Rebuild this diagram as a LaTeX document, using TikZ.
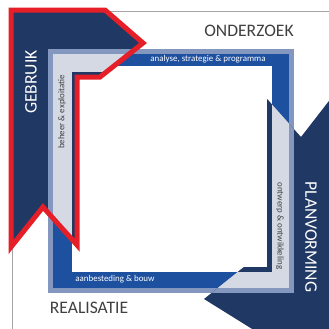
\documentclass[tikz,border=0pt]{standalone}
\usepackage{fontspec}
\setmainfont{Carlito}
\usepackage{tikz}
\usetikzlibrary{positioning}
\definecolor{colornavy}  {RGB}{32,56,100}
\definecolor{colorblue}  {RGB}{30,80,160}
\definecolor{colorsteel} {RGB}{132,151,190}
\definecolor{colorlight} {RGB}{212,217,228}
\definecolor{colorred}   {RGB}{230,30,40}
\definecolor{colortext}  {RGB}{64,64,64}
\definecolor{colorframe} {RGB}{165,165,165}

\begin{document}
\begin{tikzpicture}[
    x=0.03cm, y=-0.03cm,
    phase/.style={text=colortext,font={\fontsize{15}{18}\selectfont},inner sep=0pt},
    activity/.style={text=colortext,font={\fontsize{7.6}{9}\selectfont},inner sep=0pt},
]

    \useasboundingbox[fill=white] (0,0) rectangle (329,329);

    % Frame
    \draw[colorframe,line width=0.6pt] (12,329) -- (12,11) -- (329,11);

    % Ring
    \fill[colorsteel] (48,49) rectangle (294,293);
    \fill[colorblue]  (53,54) rectangle (289,288);
    \fill[white]      (72,66) rectangle (272,272);

    % Gebruik
    \begin{scope}
        \clip (11,10) -- (105,10) -- (143,43) -- (100,77) -- (77,77) -- (77,245) -- (43,207) -- (11,247) -- cycle;
        \fill[colornavy]  (0,0) rectangle (329,329);
        \fill[colorsteel] (48,49) rectangle (294,293);
        \fill[colorlight] (53,54) rectangle (289,288);
        \fill[colornavy]  (72,72) rectangle (272,272);
    \end{scope}

    % Planvorming
    \begin{scope}
        \clip (332,97) -- (301,137) -- (267,99) -- (267,267) -- (244,267) -- (204,299) -- (257,332) -- (332,332) -- cycle;
        \fill[colornavy]  (0,0) rectangle (329,329);
        \fill[colorsteel] (48,49) rectangle (294,293);
        \fill[colorlight] (53,54) rectangle (289,288);
        \fill[colornavy]  (72,72) rectangle (272,272);
    \end{scope}

    \draw[colorred,line width=0.15cm] (11,10) -- (105,10) -- (143,43) -- (100,77) -- (77,77) -- (77,245) -- (43,207) -- (11,247) -- cycle;

    % Phases
    \node[phase] (onderzoek)  at (249,31) {ONDERZOEK};
    \node[phase] (realisatie) at (89,308) {REALISATIE};
    \node[phase,text=white,rotate=90]  (gebruik)     at (31,82)  {GEBRUIK};
    \node[phase,text=white,rotate=-90] (planvorming) at (311,237) {PLANVORMING};

    % Activities
    \node[activity,text=white] (analyse)      at (208,59)  {analyse, strategie \& programma};
    \node[activity,rotate=90]  (beheer)       at (62,112)  {beheer \& exploitatie};
    \node[activity,rotate=-90] (ontwerp)      at (280,226) {ontwerp \& ontwikkeling};
    \node[activity,text=white] (aanbesteding) at (115,279) {aanbesteding \& bouw};

\end{tikzpicture}
\end{document}
